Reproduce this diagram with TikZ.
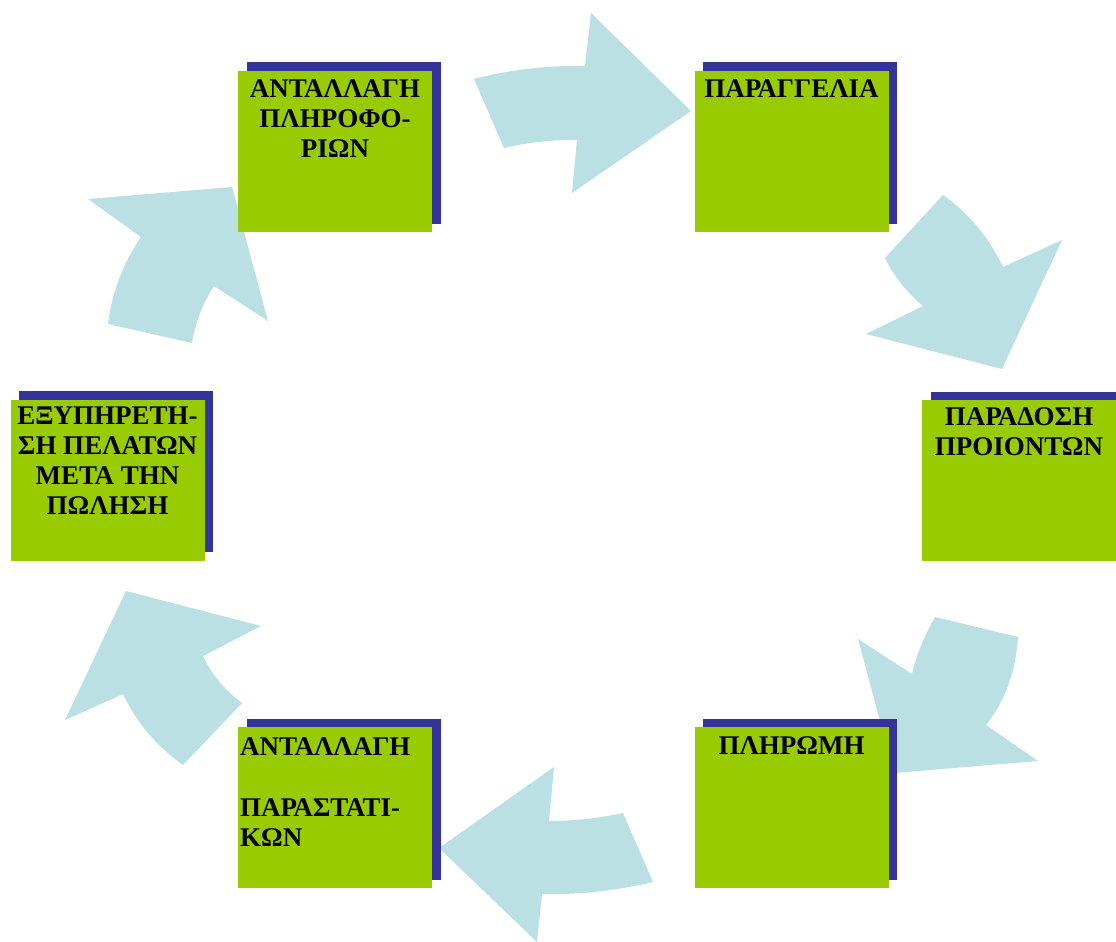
\documentclass[tikz,border=0pt]{standalone}
\usepackage{fontspec}
\setmainfont{Liberation Serif}
\usetikzlibrary{shadows}
\definecolor{arrowblue}{HTML}{BBE0E3}
\definecolor{boxgreen}{HTML}{99CC00}
\definecolor{shadowblue}{HTML}{333399}
\tikzset{
  stagebox/.style={rectangle, fill=boxgreen, minimum width=194pt, minimum height=161pt, inner sep=0pt,
    general shadow={fill=shadowblue, shadow xshift=8.5pt, shadow yshift=8.5pt}},
  stagetext/.style={inner sep=0pt, font=\fontsize{27}{30}\selectfont\bfseries, align=center, anchor=north},
  flow/.style={fill=arrowblue, draw=none}
}
\begin{document}
\begin{tikzpicture}[x=1pt,y=-1pt]
\useasboundingbox (0,0) rectangle (1116,942);
% curved block arrows
\fill[flow] (474,79) .. controls (510.3,69.6) and (547.3,65.3) .. (585,66) -- (591,13) -- (691,111) -- (572,193) -- (577,140)
  .. controls (553,139.6) and (528.7,142.3) .. (504,148) -- cycle;
\fill[flow] (943,195) .. controls (968.8,213.2) and (988.8,237.2) .. (1003,267) -- (1062,240) -- (1002,369) -- (866,334) -- (923,306)
  .. controls (907.2,293.1) and (894.5,277.1) .. (885,258) -- cycle;
\fill[flow] (935,617) -- (1018,637) .. controls (1015.8,671.7) and (1005.1,701) .. (986,725) -- (1038,761) -- (894,773) -- (858,639) -- (912,674)
  .. controls (915.9,656.5) and (923.5,637.5) .. (935,617) -- cycle;
\fill[flow] (623,813) -- (653,882) .. controls (614.9,890.9) and (577.9,894.9) .. (542,894) -- (537,942) -- (439,848) -- (554,767) -- (549,821)
  .. controls (573.7,821) and (598.3,818.3) .. (623,813) -- cycle;
\fill[flow] (242,703) -- (183,765) .. controls (156.8,746.5) and (136.8,722.8) .. (123,694) -- (65,720) -- (126,591) -- (261,626) -- (203,656)
  .. controls (211.8,674.5) and (224.8,690.2) .. (242,703) -- cycle;
\fill[flow] (108,324) -- (192,343) .. controls (195.3,322.5) and (202.7,303.5) .. (214,286) -- (268,321) -- (232,187) -- (88,199) -- (141,237)
  .. controls (123.1,263.1) and (112.1,292.1) .. (108,324) -- cycle;
% boxes
\node[stagebox] (b1) at (335,151.5) {};
\node[stagebox] (b2) at (791.5,151.5) {};
\node[stagebox] (b3) at (1019,480.5) {};
\node[stagebox] (b4) at (107.5,480) {};
\node[stagebox] (b5) at (335,807.5) {};
\node[stagebox] (b6) at (791.5,807.5) {};
% texts
\node[stagetext] (t1) at (335,79) {ΑΝΤΑΛΛΑΓΗ\\ΠΛΗΡΟΦΟ-\\ΡΙΩΝ};
\node[stagetext] (t2) at (791.5,79) {ΠΑΡΑΓΓΕΛΙΑ};
\node[stagetext] (t3) at (1019,407) {ΠΑΡΑΔΟΣΗ\\ΠΡΟΙΟΝΤΩΝ};
\node[stagetext] (t4) at (107.5,407) {ΕΞΥΠΗΡΕΤΗ-\\ΣΗ ΠΕΛΑΤΩΝ\\ΜΕΤΑ ΤΗΝ\\ΠΩΛΗΣΗ};
\node[stagetext, align=left, anchor=north west] (t5) at (240,737) {ΑΝΤΑΛΛΑΓΗ\\[1.5pt]\mbox{}\\ΠΑΡΑΣΤΑΤΙ-\\ΚΩΝ};
\node[stagetext] (t6) at (791.5,736) {ΠΛΗΡΩΜΗ};
\end{tikzpicture}
\end{document}
